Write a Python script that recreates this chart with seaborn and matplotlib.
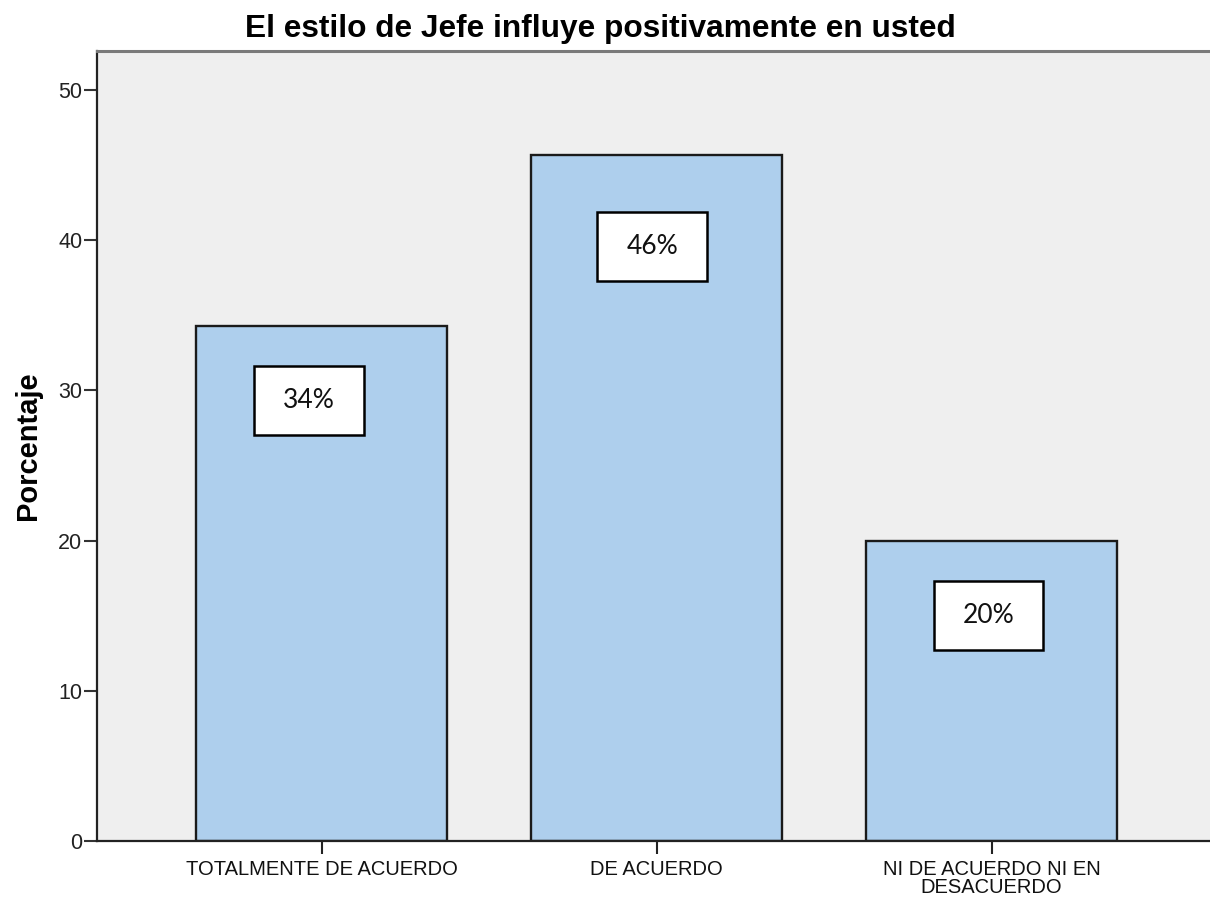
import matplotlib
matplotlib.use("Agg")
import matplotlib.pyplot as plt
from matplotlib.patches import Rectangle
import seaborn as sns
import pandas as pd

# Survey results
categories = ["TOTALMENTE DE ACUERDO", "DE ACUERDO", "NI DE ACUERDO NI EN\nDESACUERDO"]
percentages = [34.3, 45.7, 20.0]
labels = ["34%", "46%", "20%"]
label_drop = [5.0, 6.1, 5.0]          # how far below the bar top each label box sits
label_dx = [-0.037, -0.013, -0.009]   # small horizontal nudge of each label box
y_ticks = [0, 10, 20, 30, 40, 50]

df = pd.DataFrame({"categoria": categories, "porcentaje": percentages})

sns.set_style("white")
plt.rcParams["font.family"] = ["Liberation Sans", "DejaVu Sans"]

fig = plt.figure(figsize=(12.10, 9.01), dpi=100)
ax = fig.add_axes([0.0802, 0.0666, 0.9198, 0.8768])
ax.set_facecolor("#EFEFEF")

sns.barplot(data=df, x="categoria", y="porcentaje", ax=ax, width=0.75,
            color="#AECFED", saturation=1, edgecolor="#1a1a1a", linewidth=1.7)

ax.set_xlim(-0.670, 2.652)
ax.set_ylim(0, 52.6)
ax.set_yticks(y_ticks)
ax.set_yticklabels([str(t) for t in y_ticks], fontsize=15.5, color="#222222")
ax.tick_params(axis="x", bottom=True, labelsize=14.5, length=9.5, width=1.5,
               color="#222222", direction="out", pad=4, labelcolor="#111111")
ax.tick_params(axis="y", left=True, length=9.5, width=1.5, color="#333333",
               direction="out", pad=1)
for lbl in ax.get_xticklabels():
    lbl.set_linespacing(0.95)

ax.set_xlabel("")
ax.set_ylabel("Porcentaje", fontsize=21, fontweight="bold", labelpad=12, color="black")
fig.text(0.496, 1 - 37 / 901, "El estilo de Jefe influye positivamente en usted",
         fontsize=22.8, fontweight="bold", ha="center", va="baseline", color="black")

for side in ["left", "bottom"]:
    ax.spines[side].set_visible(True)
    ax.spines[side].set_color("#222222")
    ax.spines[side].set_linewidth(1.6)
ax.spines["top"].set_visible(True)
ax.spines["top"].set_color("#7a7a7a")
ax.spines["top"].set_linewidth(2.2)
ax.spines["right"].set_visible(False)

# value labels in white boxes
box_w, box_h = 0.328, 4.6
for i, (val, txt, drop, dx) in enumerate(zip(percentages, labels, label_drop, label_dx)):
    cx = i + dx
    cy = val - drop
    ax.add_patch(Rectangle((cx - box_w / 2, cy - box_h / 2), box_w, box_h,
                           facecolor="white", edgecolor="black", linewidth=1.8, zorder=5))
    ax.text(cx, cy, txt, ha="center", va="center", fontsize=19,
            family=["Lato", "DejaVu Sans"], color="#111111", zorder=6)

fig.savefig("out.png", dpi=100)
